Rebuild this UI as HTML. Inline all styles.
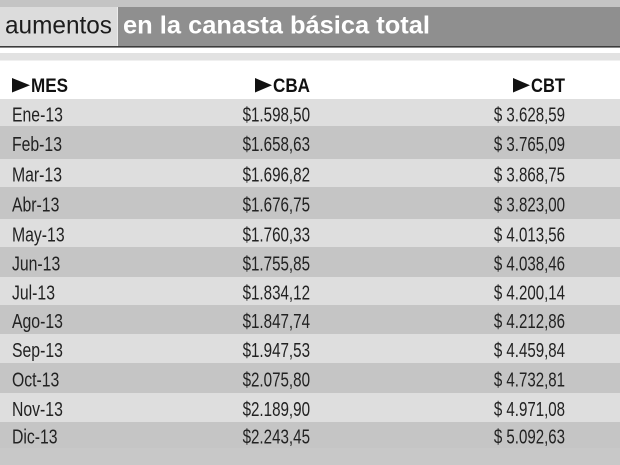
<!DOCTYPE html>
<html>
<head>
<meta charset="utf-8">
<style>
  html,body{margin:0;padding:0;background:#fff;}
  svg{display:block;}
  text{font-family:"Liberation Sans", sans-serif;}
</style>
</head>
<body>
<svg width="620" height="465" viewBox="0 0 620 465" xmlns="http://www.w3.org/2000/svg">
  <rect x="0" y="0" width="620" height="465" fill="#ffffff"/>
  <rect x="0" y="0" width="620" height="7" fill="#c4c4c4"/>
  <rect x="0" y="7" width="118" height="39.5" fill="#dcdcdc"/>
  <rect x="117" y="7" width="1" height="39.5" fill="#ececec"/>
  <rect x="118" y="7" width="502" height="39.5" fill="#8f8f8f"/>
  <rect x="0" y="46" width="620" height="1.6" fill="#3c3c3c"/>
  <text x="5" y="33.5" font-size="25" fill="#1c1c1c" textLength="107" lengthAdjust="spacingAndGlyphs">aumentos</text>
  <text x="123" y="33.5" font-size="25" font-weight="bold" fill="#ffffff" textLength="307" lengthAdjust="spacingAndGlyphs">en la canasta básica total</text>

  <rect x="0" y="53" width="620" height="7.5" fill="#e2e2e2"/>

  <polygon points="12,78 12,92.5 30,85.25" fill="#111"/>
  <text x="31" y="92" font-size="19.5" font-weight="bold" fill="#111" textLength="37" lengthAdjust="spacingAndGlyphs">MES</text>
  <polygon points="255,78 255,92.5 272,85.25" fill="#111"/>
  <text x="273" y="92" font-size="19.5" font-weight="bold" fill="#111" textLength="37" lengthAdjust="spacingAndGlyphs">CBA</text>
  <polygon points="513,78 513,92.5 530,85.25" fill="#111"/>
  <text x="531" y="92" font-size="19.5" font-weight="bold" fill="#111" textLength="34" lengthAdjust="spacingAndGlyphs">CBT</text>

  <rect x="0" y="99" width="620" height="27" fill="#dedede"/>
  <rect x="0" y="126" width="620" height="33" fill="#c5c5c5"/>
  <rect x="0" y="159" width="620" height="28" fill="#dedede"/>
  <rect x="0" y="187" width="620" height="32" fill="#c5c5c5"/>
  <rect x="0" y="219" width="620" height="28" fill="#dedede"/>
  <rect x="0" y="247" width="620" height="30" fill="#c5c5c5"/>
  <rect x="0" y="277" width="620" height="28" fill="#dedede"/>
  <rect x="0" y="305" width="620" height="29" fill="#c5c5c5"/>
  <rect x="0" y="334" width="620" height="29" fill="#dedede"/>
  <rect x="0" y="363" width="620" height="30" fill="#c5c5c5"/>
  <rect x="0" y="393" width="620" height="29" fill="#dedede"/>
  <rect x="0" y="422" width="620" height="26" fill="#c5c5c5"/>
  <rect x="0" y="448" width="620" height="17" fill="#c8c8c8"/>

  <g transform="translate(12,0) scale(0.77,1)" font-size="20.5" fill="#222">
    <text x="0" y="121.5">Ene-13</text>
    <text x="0" y="151">Feb-13</text>
    <text x="0" y="181.5">Mar-13</text>
    <text x="0" y="211.5">Abr-13</text>
    <text x="0" y="241.5">May-13</text>
    <text x="0" y="270.5">Jun-13</text>
    <text x="0" y="299.5">Jul-13</text>
    <text x="0" y="328">Ago-13</text>
    <text x="0" y="357">Sep-13</text>
    <text x="0" y="386.5">Oct-13</text>
    <text x="0" y="416">Nov-13</text>
    <text x="0" y="443.5">Dic-13</text>
  </g>

  <g transform="translate(310,0) scale(0.74,1)" font-size="20.5" fill="#222" text-anchor="end">
    <text x="0" y="121.5">$1.598,50</text>
    <text x="0" y="151">$1.658,63</text>
    <text x="0" y="181.5">$1.696,82</text>
    <text x="0" y="211.5">$1.676,75</text>
    <text x="0" y="241.5">$1.760,33</text>
    <text x="0" y="270.5">$1.755,85</text>
    <text x="0" y="299.5">$1.834,12</text>
    <text x="0" y="328">$1.847,74</text>
    <text x="0" y="357">$1.947,53</text>
    <text x="0" y="386.5">$2.075,80</text>
    <text x="0" y="416">$2.189,90</text>
    <text x="0" y="443.5">$2.243,45</text>
  </g>

  <g transform="translate(565,0) scale(0.735,1)" font-size="20.5" fill="#222" text-anchor="end">
    <text x="0" y="121.5">$ 3.628,59</text>
    <text x="0" y="151">$ 3.765,09</text>
    <text x="0" y="181.5">$ 3.868,75</text>
    <text x="0" y="211.5">$ 3.823,00</text>
    <text x="0" y="241.5">$ 4.013,56</text>
    <text x="0" y="270.5">$ 4.038,46</text>
    <text x="0" y="299.5">$ 4.200,14</text>
    <text x="0" y="328">$ 4.212,86</text>
    <text x="0" y="357">$ 4.459,84</text>
    <text x="0" y="386.5">$ 4.732,81</text>
    <text x="0" y="416">$ 4.971,08</text>
    <text x="0" y="443.5">$ 5.092,63</text>
  </g>
</svg>
</body>
</html>
